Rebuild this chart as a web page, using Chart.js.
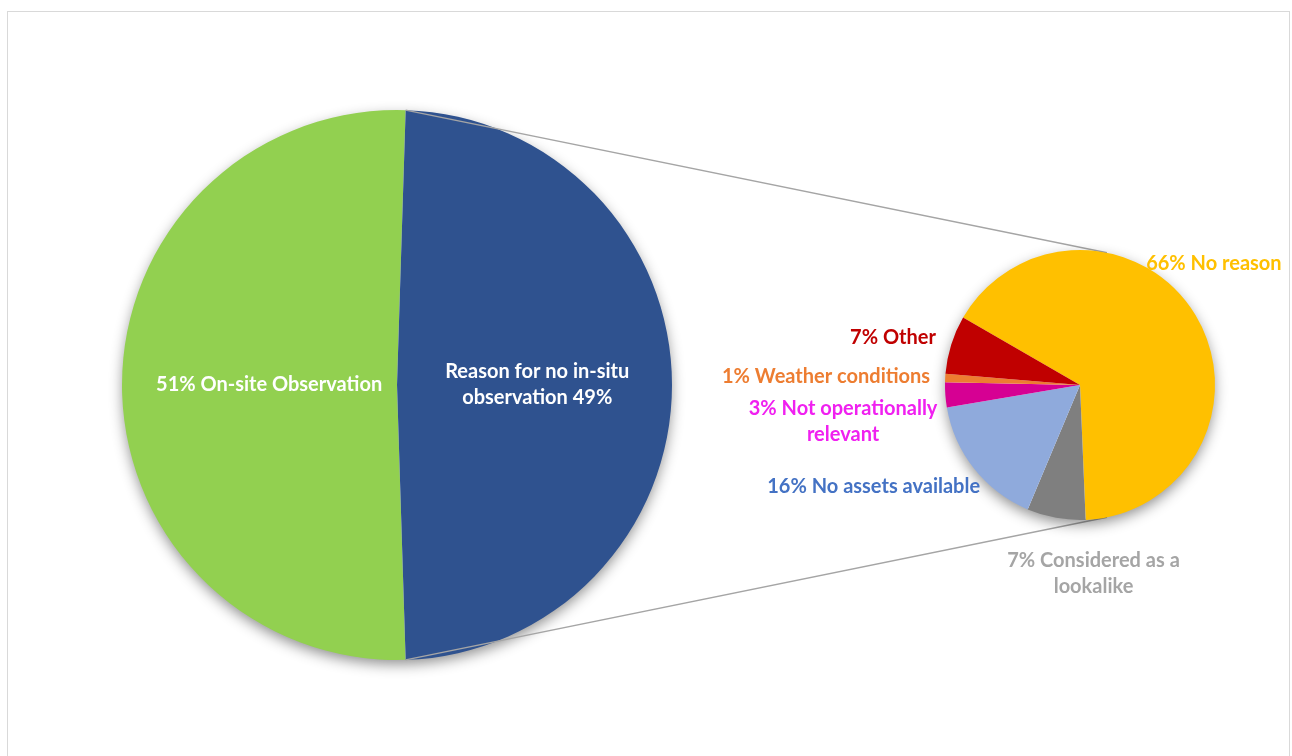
<!DOCTYPE html>
<html>
<head>
<meta charset="utf-8">
<script src="https://cdn.jsdelivr.net/npm/chart.js@4/dist/chart.umd.min.js"></script>
<style>
  body { margin: 0; background: #fff; width: 1292px; height: 756px; overflow: hidden; position: relative; }
  #frame { position: absolute; left: 7px; top: 11px; width: 1283px; height: 800px; border: 1px solid #d9d9d9; box-sizing: border-box; }
  canvas { position: absolute; left: 0; top: 0; }
</style>
</head>
<body>
<div id="frame"></div>
<canvas id="main" width="1292" height="756"></canvas>
<canvas id="detail" width="1292" height="756"></canvas>
<script>
// main pie
const mainLabels = ['On-site Observation', 'Reason for no in-situ observation']
const mainValues = [51, 49]
const mainColors = ['#92d050', '#2f528f']
// text lines, {p} gets the percentage
const mainText = [['{p} On-site Observation'], ['Reason for no in-situ', 'observation {p}']]

// second pie (breakdown of "Reason for no in-situ observation")
const detailLabels = ['No reason', 'Considered as a lookalike', 'No assets available', 'Not operationally relevant', 'Weather conditions', 'Other']
const detailValues = [66, 7, 16, 3, 1, 7]
const detailColors = ['#ffc000', '#7f7f7f', '#8faadc', '#d60093', '#ed7d31', '#c00000']
const detailTextColors = ['#ffc000', '#a5a5a5', '#4472c4', '#f020f0', '#ed7d31', '#c00000']
const detailText = [['{p} No reason'], ['{p} Considered as a', 'lookalike'], ['{p} No assets available'],
    ['{p} Not operationally', 'relevant'], ['{p} Weather conditions'], ['{p} Other']]

const FONT = 'bold 20px Lato, "Open Sans", sans-serif'
const LINE_H = 26

// label placement: offsets from the pie centre in radius units
const mainLabelPos = [
    { radial: 0.465, align: 'center' },
    { radial: 0.51, align: 'center' }
]
const detailLabelPos = [
    { dx: 0.49, dy: -0.90, align: 'left' },
    { dx: 0.10, dy: 1.393, align: 'center' },
    { dx: -0.74, dy: 0.75, align: 'right' },
    { dx: -1.755, dy: 0.274, align: 'center' },
    { dx: -1.11, dy: -0.06, align: 'right' },
    { dx: -1.067, dy: -0.35, align: 'right' }
]

const sum = arr => arr.reduce((a, b) => a + b, 0)

function fmt(lines, v) {
    return lines.map(l => l.replace('{p}', v + '%'))
}

// soft shadow under each pie
const pieShadow = {
    id: 'pieShadow',
    beforeDatasetsDraw(chart) {
        const arc = chart.getDatasetMeta(0).data[0]
        const ctx = chart.ctx
        ctx.save()
        ctx.shadowColor = 'rgba(0,0,0,0.45)'
        ctx.shadowBlur = 14
        ctx.shadowOffsetY = 5
        ctx.fillStyle = '#fff'
        ctx.beginPath()
        ctx.arc(arc.x, arc.y, arc.outerRadius - 1, 0, Math.PI * 2)
        ctx.fill()
        ctx.restore()
    }
}

function drawLines(ctx, lines, x, y, align, color) {
    ctx.fillStyle = color
    ctx.textAlign = align
    ctx.textBaseline = 'middle'
    ctx.font = FONT
    const top = y - (lines.length - 1) * LINE_H / 2
    lines.forEach((l, i) => ctx.fillText(l, x, top + i * LINE_H))
}

const mainChart = new Chart(document.getElementById('main'), {
    type: 'pie',
    data: {
        labels: mainLabels,
        datasets: [{
            data: mainValues,
            backgroundColor: mainColors,
            borderWidth: 0
        }]
    },
    options: {
        responsive: false,
        animation: false,
        // put the second slice centred on the right side
        rotation: 90 + mainValues[1] / sum(mainValues) * 180,
        layout: { padding: { left: 122, right: 620, top: 110, bottom: 96 } },
        plugins: { legend: { display: false }, tooltip: { enabled: false } }
    },
    plugins: [pieShadow, {
        id: 'mainLabels',
        afterDatasetsDraw(chart) {
            const ctx = chart.ctx
            chart.getDatasetMeta(0).data.forEach((arc, i) => {
                const mid = (arc.startAngle + arc.endAngle) / 2
                const r = arc.outerRadius * mainLabelPos[i].radial
                drawLines(ctx, fmt(mainText[i], mainValues[i]),
                    arc.x + Math.cos(mid) * r, arc.y + Math.sin(mid) * r,
                    mainLabelPos[i].align, '#ffffff')
            })
        }
    }]
})

const CONNECT_ANGLE = 78.5 * Math.PI / 180

const detailChart = new Chart(document.getElementById('detail'), {
    type: 'pie',
    data: {
        labels: detailLabels,
        datasets: [{
            data: detailValues,
            backgroundColor: detailColors,
            borderWidth: 0
        }]
    },
    options: {
        responsive: false,
        animation: false,
        rotation: 300,
        layout: { padding: { left: 945, right: 77, top: 250, bottom: 236 } },
        plugins: { legend: { display: false }, tooltip: { enabled: false } }
    },
    plugins: [{
        id: 'connectors',
        beforeDatasetsDraw(chart) {
            const ctx = chart.ctx
            const big = mainChart.getDatasetMeta(0).data[1]
            const small = chart.getDatasetMeta(0).data[0]
            ctx.save()
            ctx.strokeStyle = '#a5a5a5'
            ctx.lineWidth = 1.5
            ;[[big.startAngle, -CONNECT_ANGLE], [big.endAngle, CONNECT_ANGLE]].forEach(([a, b]) => {
                ctx.beginPath()
                ctx.moveTo(big.x + Math.cos(a) * big.outerRadius, big.y + Math.sin(a) * big.outerRadius)
                ctx.lineTo(small.x + Math.cos(b) * small.outerRadius, small.y + Math.sin(b) * small.outerRadius)
                ctx.stroke()
            })
            ctx.restore()
        }
    }, pieShadow, {
        id: 'detailLabels',
        afterDatasetsDraw(chart) {
            const ctx = chart.ctx
            const meta = chart.getDatasetMeta(0)
            const c = meta.data[0]
            const r = c.outerRadius
            meta.data.forEach((arc, i) => {
                const p = detailLabelPos[i]
                drawLines(ctx, fmt(detailText[i], detailValues[i]),
                    c.x + p.dx * r, c.y + p.dy * r, p.align, detailTextColors[i])
            })
        }
    }]
})
</script>
</body>
</html>
